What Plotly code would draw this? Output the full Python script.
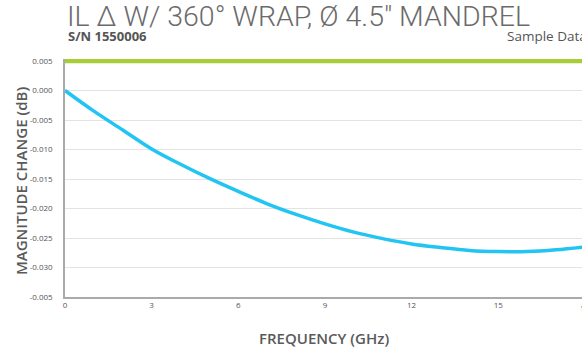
import plotly.graph_objects as go

# Data
freq_ghz = [0, 1, 2, 3, 4, 5, 6, 7, 8, 9, 10, 11, 12, 13, 14, 15, 16, 17, 18]
mag_change_db = [0.0000, -0.0035, -0.0067, -0.0099, -0.0125, -0.0149, -0.0171,
                 -0.0192, -0.0210, -0.0226, -0.0240, -0.0251, -0.0260, -0.0266,
                 -0.0271, -0.0273, -0.0273, -0.0270, -0.0265]
limit_db = [0.005] * len(freq_ghz)

y_tick_vals = [0.005, 0.000, -0.005, -0.010, -0.015, -0.020, -0.025, -0.030, -0.035]
y_tick_text = ["0.005", "0.000", "-0.005", "-0.010", "-0.015", "-0.020", "-0.025", "-0.030", "-0.005"]
x_tick_vals = [0, 3, 6, 9, 12, 15, 18]
x_tick_text = ["0", "3", "6", "9", "12", "15", "18"]

title_text = "IL \u0394 W/ 360\u00b0 WRAP, \u00d8 4.5\" MANDREL"
sn_text = "S/N 1550006"
sample_text = "Sample Data"

X_MAX = 17.9
PLOT_W = 517
PLOT_H = 238

fig = go.Figure()
fig.add_trace(go.Scatter(x=freq_ghz, y=limit_db, mode="lines",
                         line=dict(color="#a6ce39", width=4.5), hoverinfo="skip"))
fig.add_trace(go.Scatter(x=freq_ghz, y=mag_change_db, mode="lines",
                         line=dict(color="#22c4f2", width=3.5, shape="spline")))

tick_font = dict(family="Open Sans", size=8, color="#555555")
label_font = dict(family="Open Sans", size=15, color="#5a5a5a", weight=600)

fig.update_layout(
    width=582, height=355,
    margin=dict(l=65, r=0, t=59, b=58, autoexpand=False),
    paper_bgcolor="white", plot_bgcolor="white",
    showlegend=False,
    xaxis=dict(range=[0, X_MAX], tickvals=x_tick_vals, ticktext=x_tick_text,
               showgrid=False, zeroline=False, showline=True, linecolor="#aaaaaa",
               linewidth=1.5, ticks="", tickfont=tick_font, automargin=False),
    yaxis=dict(range=[-0.035, 0.00534], tickvals=y_tick_vals, ticktext=y_tick_text,
               showgrid=True, gridcolor="#e3e3e3", gridwidth=1.2, zeroline=False,
               showline=True, linecolor="#aaaaaa", linewidth=1.5, ticks="",
               tickfont=tick_font, ticklabelstandoff=9, automargin=False),
    annotations=[
        dict(text=title_text, xref="paper", yref="paper",
             x=0, y=1 + 42/PLOT_H, xanchor="left", yanchor="middle", showarrow=False,
             font=dict(family="Roboto", size=28.5, color="#6a6a6a", weight=300)),
        dict(text="<b>" + sn_text + "</b>", xref="paper", yref="paper",
             x=1/PLOT_W, y=1 + 23/PLOT_H, xanchor="left", yanchor="middle", showarrow=False,
             font=dict(family="Open Sans", size=13, color="#555555")),
        dict(text=sample_text, xref="paper", yref="paper",
             x=1 + 7/PLOT_W, y=1 + 23/PLOT_H, xanchor="right", yanchor="middle", showarrow=False,
             font=dict(family="Open Sans", size=13.5, color="#555555")),
        dict(text=x_tick_text[-1], xref="paper", yref="paper",
             x=x_tick_vals[-1] / X_MAX, y=0, xanchor="center", yanchor="top",
             yshift=-3, showarrow=False, font=tick_font),
        dict(text="FREQUENCY (GHz)", xref="paper", yref="paper",
             x=0.5, y=-41/PLOT_H, xanchor="center", yanchor="middle", showarrow=False,
             font=label_font),
        dict(text="MAGNITUDE CHANGE (dB)", xref="paper", yref="paper",
             x=-44/PLOT_W, y=0.5 - 3/PLOT_H, xanchor="center", yanchor="middle",
             textangle=-90, showarrow=False, font=label_font),
    ],
)

fig.write_html("out.html", config={"displayModeBar": False},
               post_script="document.body.style.margin='0';")
